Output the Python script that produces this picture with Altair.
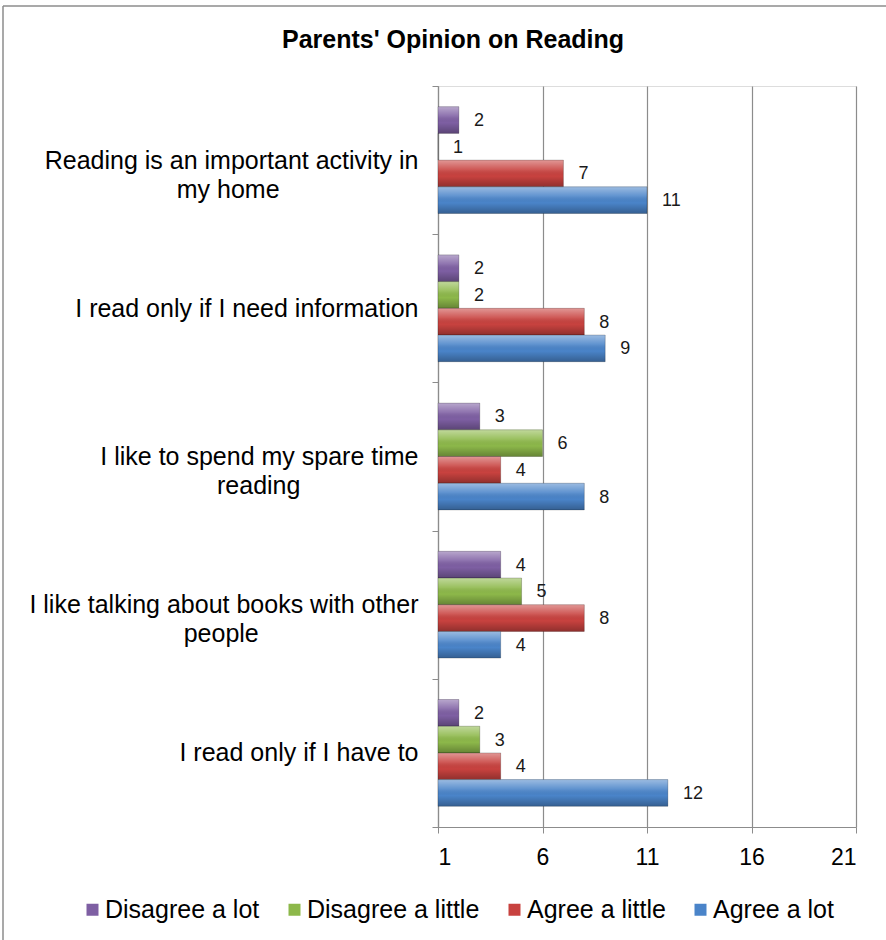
import json
import altair as alt
import pandas as pd

NB = "\u00a0"
ZW = "\u200b"

# ---- data -------------------------------------------------------------
statements = [
    "Reading is an important activity in my home",
    "I read only if I need information",
    "I like to spend my spare time reading",
    "I like talking about books with other people",
    "I read only if I have to",
]
# how each statement is broken onto lines (short lines padded so they sit centred)
label_lines = [
    ["Reading is an important activity in", "my home" + NB * 20 + ZW],
    ["I read only if I need information"],
    ["I like to spend my spare time", "reading" + NB * 17 + ZW],
    ["I like talking about books with other", "people" + NB * 23 + ZW],
    ["I read only if I have to"],
]
series = ["Disagree a lot", "Disagree a little", "Agree a little", "Agree a lot"]
disagree_a_lot = [2, 2, 3, 4, 2]
disagree_a_little = [1, 2, 6, 5, 3]
agree_a_little = [7, 8, 4, 8, 4]
agree_a_lot = [11, 9, 8, 4, 12]
colors = ["#7E5FA3", "#8DB84A", "#C8423F", "#4A84C9"]
x_ticks = [1, 6, 11, 16, 21]

values_by_series = [disagree_a_lot, disagree_a_little, agree_a_little, agree_a_lot]
rows = []
for s, vals in zip(series, values_by_series):
    for st, v in zip(statements, vals):
        rows.append({"statement": st, "response": s, "count": v})
df = pd.DataFrame(rows)

# ---- label expression -----------------------------------------------
expr = "datum.label"
for st, lines in reversed(list(zip(statements, label_lines))):
    expr = f"datum.value == {json.dumps(st, ensure_ascii=False)} ? {json.dumps(lines, ensure_ascii=False)} : ({expr})"

FONT = "Liberation Sans"
GRAY = "#8c8c8c"

y_enc = alt.Y(
    "statement:N",
    sort=statements,
    scale=alt.Scale(domain=statements, paddingInner=0, paddingOuter=0),
    axis=alt.Axis(
        title=None,
        labelExpr=expr,
        labelFont=FONT,
        labelFontSize=25,
        labelColor="#000000",
        labelLineHeight=29,
        labelPadding=14,
        labelLimit=0,
        tickBand="extent",
        tickSize=6,
        tickColor=GRAY,
        domainColor=GRAY,
        domainWidth=1.2,
        grid=False,
    ),
)
yoff_enc = alt.YOffset(
    "response:N",
    sort=series,
    scale=alt.Scale(domain=series, paddingInner=0, paddingOuter=0.775),
)
x_enc = alt.X(
    "count:Q",
    scale=alt.Scale(domain=[1, 21], nice=False, zero=False),
    axis=alt.Axis(
        title=None,
        values=x_ticks,
        labelFont=FONT,
        labelFontSize=23,
        labelColor="#000000",
        labelPadding=13,
        tickSize=6,
        tickColor=GRAY,
        domainColor=GRAY,
        domainWidth=1.2,
        gridColor=GRAY,
        gridWidth=1.2,
        grid=True,
    ),
)

bars = alt.Chart(df).mark_bar(cornerRadius=0).encode(
    y=y_enc,
    yOffset=yoff_enc,
    x=x_enc,
    x2=alt.datum(1),
    color=alt.Color(
        "response:N",
        sort=series,
        scale=alt.Scale(domain=series, range=colors),
        legend=alt.Legend(
            orient="none",
            direction="horizontal",
            legendX=-358,
            legendY=811,
            title=None,
            symbolType="square",
            symbolSize=144,
            symbolStrokeWidth=0,
            labelFont=FONT,
            labelFontSize=25,
            labelColor="#000000",
            labelOffset=0,
            columnPadding=22,
            labelLimit=0,
        ),
    ),
)

gloss = alt.Chart(df).mark_bar(
    fill=alt.Gradient(
        gradient="linear",
        stops=[
            alt.GradientStop(color="rgba(255,255,255,0.45)", offset=0),
            alt.GradientStop(color="rgba(255,255,255,0.12)", offset=0.35),
            alt.GradientStop(color="rgba(0,0,0,0)", offset=0.6),
            alt.GradientStop(color="rgba(0,0,0,0.28)", offset=1),
        ],
        x1=0, x2=0, y1=0, y2=1,
    ),
    stroke="rgba(0,0,0,0.25)",
    strokeWidth=0.8,
).encode(y=y_enc, yOffset=yoff_enc, x=x_enc, x2=alt.datum(1))

labels = alt.Chart(df).mark_text(
    align="left", baseline="middle", dx=15, dy=1, font=FONT, fontSize=18, color="#1a1a1a"
).encode(y=y_enc, yOffset=yoff_enc, x=x_enc, text="count:Q")

frame_data = alt.Data(values=[{"k": 1}])
frame_left = alt.Chart(frame_data).mark_rule(color=GRAY, strokeWidth=1.5).encode(
    x=alt.value(-435), y=alt.value(-80), y2=alt.value(860)
)
frame_top = alt.Chart(frame_data).mark_rule(color=GRAY, strokeWidth=1.5).encode(
    x=alt.value(-435), x2=alt.value(450), y=alt.value(-80)
)

chart = (
    alt.layer(bars, gloss, labels, frame_left, frame_top)
    .properties(
        width=418,
        height=741,
        padding={"left": 438, "top": 86, "right": 30, "bottom": 113},
        autosize="none",
        title=alt.TitleParams(
            "Parents' Opinion on Reading",
            font=FONT,
            fontSize=25,
            fontWeight="bold",
            color="#000000",
            anchor="middle",
            frame="group",
            dx=-194,
            baseline="alphabetic",
            offset=-68,
        ),
    )
    .configure_view(stroke=None)
    .configure(background="#ffffff")
)

chart.save("out.html", embed_options={"renderer": "svg", "actions": False})
